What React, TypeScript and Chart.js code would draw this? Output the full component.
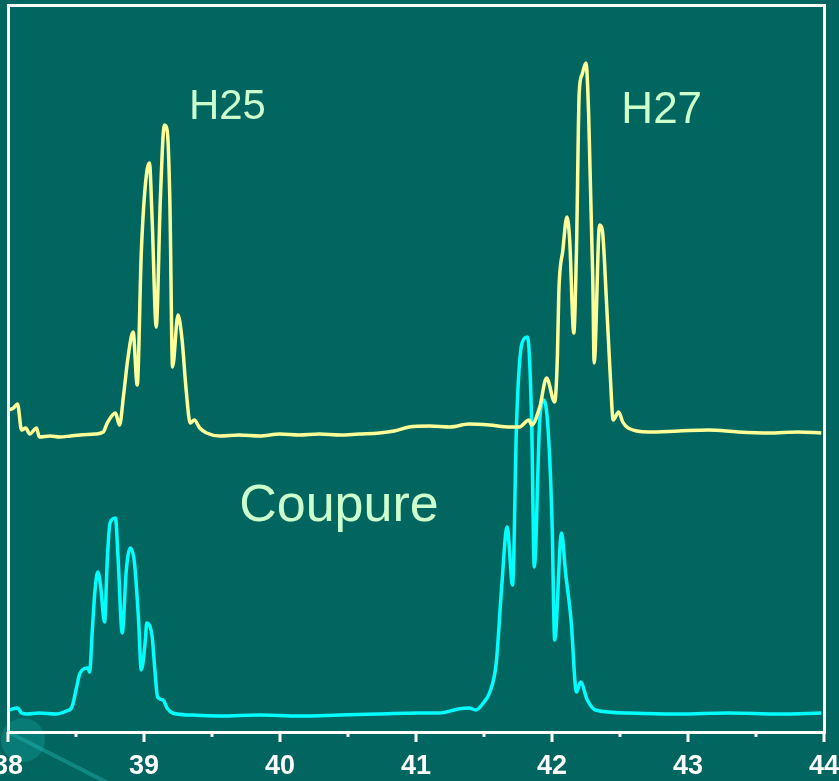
import React, { useEffect, useRef } from "react";
import { Chart, registerables } from "chart.js";

Chart.register(...registerables);

// x positions (retention time) and intensities (arbitrary units)
const h27X = [38.0, 38.04, 38.07, 38.1, 38.13, 38.16, 38.21, 38.23, 38.31, 38.38, 38.46, 38.53, 38.64, 38.7, 38.73, 38.79, 38.82, 38.85, 38.88, 38.92, 38.95, 38.98, 39.01, 39.04, 39.06, 39.09, 39.12, 39.15, 39.17, 39.19, 39.21, 39.25, 39.28, 39.31, 39.34, 39.37, 39.41, 39.46, 39.56, 39.7, 39.85, 40.0, 40.14, 40.29, 40.44, 40.58, 40.73, 40.84, 40.95, 41.1, 41.25, 41.39, 41.54, 41.69, 41.76, 41.83, 41.85, 41.91, 41.96, 42.02, 42.04, 42.05, 42.08, 42.11, 42.13, 42.16, 42.18, 42.2, 42.22, 42.25, 42.27, 42.3, 42.31, 42.35, 42.37, 42.4, 42.43, 42.45, 42.49, 42.52, 42.56, 42.71, 42.93, 43.15, 43.37, 43.59, 43.81, 43.98];
const h27Y = [322, 324, 328, 302, 304, 298, 304, 295, 296, 295, 296, 297, 298, 300, 309, 319, 307, 337, 372, 400, 347, 479, 547, 569, 512, 405, 532, 607, 602, 532, 365, 417, 392, 342, 309, 312, 304, 299, 296, 297, 296, 298, 297, 298, 297, 298, 299, 301, 305, 306, 305, 308, 307, 305, 305, 312, 307, 325, 354, 330, 377, 439, 482, 515, 492, 399, 482, 639, 657, 669, 615, 452, 369, 507, 502, 432, 352, 312, 320, 310, 304, 300, 301, 302, 300, 299, 300, 299];

const coupureX = [38.01, 38.07, 38.1, 38.14, 38.23, 38.35, 38.43, 38.47, 38.5, 38.53, 38.59, 38.6, 38.62, 38.64, 38.66, 38.68, 38.71, 38.73, 38.75, 38.79, 38.81, 38.84, 38.87, 38.9, 38.93, 38.96, 38.98, 39.01, 39.02, 39.06, 39.08, 39.1, 39.14, 39.17, 39.21, 39.34, 39.56, 39.85, 40.14, 40.44, 40.73, 41.02, 41.17, 41.31, 41.39, 41.44, 41.5, 41.54, 41.59, 41.63, 41.67, 41.71, 41.74, 41.78, 41.82, 41.85, 41.87, 41.91, 41.94, 41.97, 42.0, 42.02, 42.07, 42.1, 42.14, 42.18, 42.21, 42.26, 42.32, 42.57, 42.93, 43.3, 43.67, 43.98];
const coupureY = [22, 24, 19, 18, 19, 18, 21, 25, 42, 59, 64, 60, 102, 142, 160, 147, 110, 172, 209, 214, 172, 99, 162, 184, 169, 112, 62, 92, 109, 95, 62, 35, 32, 24, 19, 17, 16, 17, 16, 17, 18, 19, 19, 23, 24, 22, 30, 39, 69, 145, 205, 147, 312, 389, 395, 312, 165, 312, 332, 305, 212, 92, 199, 159, 112, 40, 50, 32, 22, 19, 18, 19, 18, 19];

const xTicks = [38, 39, 40, 41, 42, 43, 44];
const labels = ["H25", "H27", "Coupure"];
const labelX = [39.33, 42.51, 39.7];
const labelY = [613, 609, 211];
const labelSize = [42, 44, 52];

const BG = "#00665f";
const MINT = "#ccffcc";

export default function App() {
  const ref = useRef<HTMLCanvasElement | null>(null);

  useEffect(() => {
    document.body.style.margin = "0";
    document.body.style.background = BG;
    const canvas = ref.current!;

    const decor = {
      id: "decor",
      beforeDraw(chart: any) {
        const c = chart.ctx;
        c.save();
        c.fillStyle = BG;
        c.fillRect(0, 0, chart.width, chart.height);
        const a = chart.chartArea;
        // faint decorative disc and streak in the lower-left corner
        c.fillStyle = "rgba(40,200,200,0.22)";
        c.beginPath();
        c.arc(a.left + 15, a.bottom + 8, 22, 0, Math.PI * 2);
        c.fill();
        c.strokeStyle = "rgba(40,200,200,0.35)";
        c.lineWidth = 4;
        c.beginPath();
        c.moveTo(a.left, a.bottom);
        c.lineTo(a.left + 100, chart.height + 2);
        c.stroke();
        c.restore();
      },
      afterDatasetsDraw(chart: any) {
        const c = chart.ctx;
        const a = chart.chartArea;
        const xs = chart.scales.x;
        const ys = chart.scales.y;
        c.save();
        c.strokeStyle = "#ffffff";
        c.lineWidth = 3;
        c.strokeRect(a.left + 0.5, a.top + 0.5, a.right - a.left, a.bottom - a.top);
        for (let v = 38; v <= 44.001; v += 0.5) {
          const px = xs.getPixelForValue(v);
          const major = Math.abs(v - Math.round(v)) < 0.01;
          c.beginPath();
          c.moveTo(px, a.bottom);
          c.lineTo(px, a.bottom + (major ? 10 : 5));
          c.stroke();
        }
        c.fillStyle = MINT;
        c.textAlign = "left";
        c.textBaseline = "alphabetic";
        labels.forEach((t, i) => {
          c.font = `${labelSize[i]}px "Liberation Sans", Arial, sans-serif`;
          c.fillText(t, xs.getPixelForValue(labelX[i]), ys.getPixelForValue(labelY[i]));
        });
        c.restore();
      },
    };

    const chart = new Chart(canvas, {
      type: "line",
      data: {
        datasets: [
          {
            label: "H25 / H27",
            data: h27X.map((x, i) => ({ x, y: h27Y[i] })),
            borderColor: "#ffff99",
            borderWidth: 3.5,
            pointRadius: 0,
            cubicInterpolationMode: "monotone",
          },
          {
            label: "Coupure",
            data: coupureX.map((x, i) => ({ x, y: coupureY[i] })),
            borderColor: "#00ffff",
            borderWidth: 3.5,
            pointRadius: 0,
            cubicInterpolationMode: "monotone",
          },
        ],
      },
      options: {
        animation: false,
        responsive: false,
        maintainAspectRatio: false,
        layout: { padding: { left: 8, right: 15, top: 5, bottom: 0 } },
        plugins: { legend: { display: false }, tooltip: { enabled: false } },
        scales: {
          x: {
            type: "linear",
            min: 38,
            max: 44,
            grid: { display: false, drawTicks: false },
            border: { display: false },
            afterBuildTicks: (s: any) => {
              s.ticks = xTicks.map((v) => ({ value: v }));
            },
            afterFit: (s: any) => {
              s.height = 49;
              s.paddingLeft = 0;
              s.paddingRight = 0;
            },
            ticks: {
              color: "#ffffff",
              padding: 18,
              autoSkip: false,
              maxRotation: 0,
              font: { family: '"Liberation Sans", Arial, sans-serif', size: 27, weight: "bold" },
            },
          },
          y: { type: "linear", min: 0, max: 727, display: false },
        },
      },
      plugins: [decor],
    });
    return () => chart.destroy();
  }, []);

  return <canvas ref={ref} width={839} height={781} style={{ display: "block", width: 839, height: 781 }} />;
}
